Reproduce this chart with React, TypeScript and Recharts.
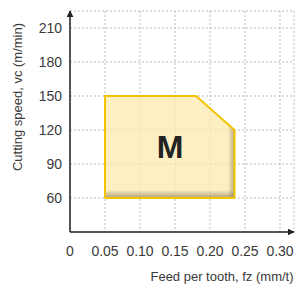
import { ComposedChart, Area, Line, XAxis, YAxis, CartesianGrid, ReferenceDot } from 'recharts';

// feed per tooth (mm/t) vs cutting speed (m/min)
const regionTop = [
  { x: 0.05, y: 150 },
  { x: 0.18, y: 150 },
  { x: 0.235, y: 120 },
];
const regionOutline = [
  { x: 0.05, y: 60 },
  { x: 0.05, y: 150 },
  { x: 0.18, y: 150 },
  { x: 0.235, y: 120 },
  { x: 0.235, y: 60 },
  { x: 0.05, y: 60 },
];
const regionBase = 60;
const regionName = 'M';
const regionLabelAt = { x: 0.143, y: 105 };

const xTicks = [0, 0.05, 0.1, 0.15, 0.2, 0.25, 0.3];
const yTicks = [60, 90, 120, 150, 180, 210];

const font = '"Liberation Sans", Arial, sans-serif';
const tickStyle = { fontSize: 14, fill: '#3a3a3a', fontFamily: font };

const fmtX = (v: number) => (v === 0 ? '0' : v.toFixed(2));

export default function App() {
  return (
    <div style={{ position: 'absolute', left: 0, top: 0, width: 300, height: 289, background: '#fff' }}>
      <ComposedChart width={300} height={289} margin={{ top: 11, right: 6, bottom: 0, left: 0 }}>
        <defs>
          <marker id="arrow" viewBox="0 0 10 10" refX="9" refY="5" markerWidth="7" markerHeight="7" markerUnits="userSpaceOnUse" orient="auto-start-reverse">
            <path d="M0,0 L10,5 L0,10 z" fill="#222" />
          </marker>
          <linearGradient id="shadeV" x1="0" y1="0" x2="0" y2="1">
            <stop offset="0%" stopColor="#5e5236" stopOpacity={0} />
            <stop offset="92%" stopColor="#5e5236" stopOpacity={0} />
            <stop offset="100%" stopColor="#5e5236" stopOpacity={0.5} />
          </linearGradient>
          <linearGradient id="shadeH" x1="0" y1="0" x2="1" y2="0">
            <stop offset="0%" stopColor="#5e5236" stopOpacity={0} />
            <stop offset="95%" stopColor="#5e5236" stopOpacity={0} />
            <stop offset="100%" stopColor="#5e5236" stopOpacity={0.45} />
          </linearGradient>
        </defs>
        <CartesianGrid stroke="#bbb" strokeDasharray="2 2" />
        <XAxis
          type="number"
          dataKey="x"
          domain={[0, 0.32]}
          ticks={xTicks}
          tickFormatter={fmtX}
          tickLine={false}
          tickMargin={8}
          height={57}
          tick={tickStyle}
          axisLine={{ stroke: '#222', strokeWidth: 1.5, markerEnd: 'url(#arrow)' }}
          allowDataOverflow
        />
        <YAxis
          type="number"
          dataKey="y"
          domain={[30, 225]}
          ticks={yTicks}
          tickLine={false}
          width={70}
          tick={tickStyle}
          axisLine={{ stroke: '#222', strokeWidth: 1.5, markerStart: 'url(#arrow)' }}
          allowDataOverflow
        />
        <Area data={regionTop} dataKey="y" type="linear" baseValue={regionBase} stroke="none" fill="#fce9ac" fillOpacity={0.75} isAnimationActive={false} />
        <Area data={regionTop} dataKey="y" type="linear" baseValue={regionBase} stroke="none" fill="url(#shadeV)" fillOpacity={1} isAnimationActive={false} />
        <Area data={regionTop} dataKey="y" type="linear" baseValue={regionBase} stroke="none" fill="url(#shadeH)" fillOpacity={1} isAnimationActive={false} />
        <Line data={regionOutline} dataKey="y" type="linear" stroke="#f5c300" strokeWidth={2} strokeLinejoin="round" dot={false} activeDot={false} isAnimationActive={false} />
        <ReferenceDot
          x={regionLabelAt.x}
          y={regionLabelAt.y}
          r={0}
          fill="none"
          stroke="none"
          label={{ value: regionName, position: 'center', fontSize: 32, fontWeight: 'bold', fill: '#222', fontFamily: font }}
        />
      </ComposedChart>
      <svg width={300} height={289} style={{ position: 'absolute', left: 0, top: 0, pointerEvents: 'none' }}>
        <text x={222} y={281} textAnchor="middle" fontSize={13} fill="#3a3a3a" fontFamily={font}>
          Feed per tooth, fz (mm/t)
        </text>
        <text x={17} y={97} transform="rotate(-90 17 97)" textAnchor="middle" dominantBaseline="central" fontSize={13} fill="#3a3a3a" fontFamily={font}>
          Cutting speed, vc (m/min)
        </text>
      </svg>
    </div>
  );
}
